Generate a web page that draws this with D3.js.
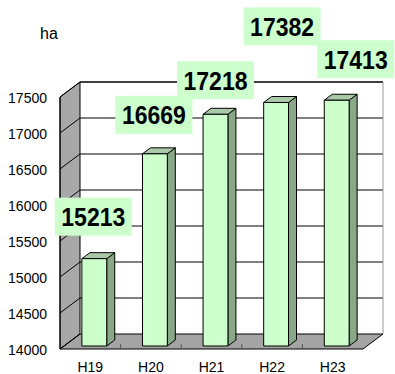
<!DOCTYPE html>
<html>
<head>
<meta charset="utf-8">
<script src="https://cdn.jsdelivr.net/npm/d3@7"></script>
<style>
  html, body { margin: 0; padding: 0; background: #fff; }
  svg { display: block; font-family: "Liberation Sans", Arial, sans-serif; }
</style>
</head>
<body>
<svg id="chart" width="395" height="374"></svg>
<script>
// Planted area by year (ha)
const categories = ["H19", "H20", "H21", "H22", "H23"];
const values = [15213, 16669, 17218, 17382, 17413];
const yTicks = [14000, 14500, 15000, 15500, 16000, 16500, 17000, 17500];
const unitLabel = "ha";

// Hand-placed offsets of the value boxes from each column top (dx, dy)
const labelNudge = [[-1, -42], [-1, -39], [0, -34], [6, -76], [19, -41]];

(function draw() {
  const svg = d3.select("#chart");

  // Front plane of the 3D plot box and its depth vector
  const plotL = 60, plotR = 363, plotB = 349, plotT = 97;
  const depth = { dx: 20, dy: -15 };

  const x = d3.scaleBand()
    .domain(categories)
    .range([plotL, plotR])
    .paddingInner(0.59)
    .paddingOuter(0.295);

  const y = d3.scaleLinear()
    .domain([yTicks[0], yTicks[yTicks.length - 1]])
    .range([plotB, plotT]);

  const pts = p => p.map(d => d.join(",")).join(" ");

  // Back wall
  svg.append("rect")
    .attr("x", plotL + depth.dx).attr("y", plotT + depth.dy)
    .attr("width", plotR - plotL).attr("height", plotB - plotT)
    .attr("fill", "#fff");

  // Side wall
  svg.append("polygon")
    .attr("points", pts([[plotL, plotB], [plotL + depth.dx, plotB + depth.dy],
                         [plotL + depth.dx, plotT + depth.dy], [plotL, plotT]]))
    .attr("fill", "#a8a8a8").attr("stroke", "#000").attr("stroke-width", 1);

  // Floor
  svg.append("polygon")
    .attr("points", pts([[plotL, plotB], [plotR, plotB],
                         [plotR + depth.dx, plotB + depth.dy], [plotL + depth.dx, plotB + depth.dy]]))
    .attr("fill", "#a4a4a4").attr("stroke", "#000").attr("stroke-width", 1);

  // Gridlines across side wall and back wall
  const grid = svg.append("g").attr("stroke", "#000").attr("stroke-width", 1).attr("fill", "none");
  yTicks.forEach(t => {
    const yf = y(t), yb = y(t) + depth.dy;
    grid.append("path")
      .attr("d", `M${plotL},${yf}L${plotL + depth.dx},${yb}` +
                 (t > yTicks[0] ? `L${plotR + depth.dx},${yb}` : ""));
  });

  // Back wall outline: top edge dark, right edge grey
  svg.append("path")
    .attr("d", `M${plotL + depth.dx},${plotT + depth.dy}L${plotR + depth.dx},${plotT + depth.dy}`)
    .attr("stroke", "#000").attr("fill", "none");
  svg.append("path")
    .attr("d", `M${plotR + depth.dx},${plotT + depth.dy}L${plotR + depth.dx},${plotB + depth.dy}`)
    .attr("stroke", "#999").attr("fill", "none");

  // Category tick marks along the front edge of the floor
  const step = x.step();
  d3.range(1, categories.length).forEach(i => {
    const bx = plotL + step * i;
    svg.append("line")
      .attr("x1", bx).attr("x2", bx)
      .attr("y1", plotB - 5).attr("y2", plotB)
      .attr("stroke", "#555").attr("stroke-width", 1);
  });

  // Columns
  const f0 = 0.2, f1 = 0.6; // depth span occupied by each column
  const off = { dx: depth.dx * f0, dy: depth.dy * f0 };
  const cd = { dx: depth.dx * (f1 - f0), dy: depth.dy * (f1 - f0) };
  const bw = x.bandwidth();

  const cols = svg.append("g").attr("stroke", "#000").attr("stroke-width", 1).attr("stroke-linejoin", "round");
  categories.forEach((c, i) => {
    const x0 = x(c) + off.dx, x1 = x0 + bw;
    const yt = y(values[i]) + off.dy, yb = y(yTicks[0]) + off.dy;
    // side face
    cols.append("polygon")
      .attr("points", pts([[x1, yb], [x1 + cd.dx, yb + cd.dy], [x1 + cd.dx, yt + cd.dy], [x1, yt]]))
      .attr("fill", "#88a888");
    // top face
    cols.append("polygon")
      .attr("points", pts([[x0, yt], [x1, yt], [x1 + cd.dx, yt + cd.dy], [x0 + cd.dx, yt + cd.dy]]))
      .attr("fill", "#a9c9a9");
    // front face
    cols.append("rect")
      .attr("x", x0).attr("y", yt).attr("width", bw).attr("height", yb - yt)
      .attr("fill", "#ccffcc");
  });

  // Front vertical axis line
  svg.append("line")
    .attr("x1", plotL).attr("x2", plotL).attr("y1", plotT).attr("y2", plotB)
    .attr("stroke", "#000");

  // Y axis labels
  const yAxis = d3.axisLeft(y).tickValues(yTicks).tickSize(0).tickPadding(13).tickFormat(d3.format("d"));
  const ya = svg.append("g").attr("transform", `translate(${plotL},1.5)`).call(yAxis);
  ya.select(".domain").remove();
  ya.selectAll("text").attr("font-size", 14).attr("fill", "#000")
    .attr("font-family", "'Liberation Sans', Arial, sans-serif");

  // X axis labels
  const xAxis = d3.axisBottom(x).tickSize(0).tickPadding(0);
  const xa = svg.append("g").attr("transform", `translate(0,${plotB})`).call(xAxis);
  xa.select(".domain").remove();
  xa.selectAll("text").attr("font-size", 14).attr("fill", "#000")
    .attr("dy", null).attr("y", 23)
    .attr("font-family", "'Liberation Sans', Arial, sans-serif");

  // Unit
  svg.append("text").attr("x", 40).attr("y", 39)
    .attr("font-size", 16).attr("fill", "#000").text(unitLabel);

  // Value boxes
  const boxW = 77, boxH = 38;
  const lab = svg.append("g");
  categories.forEach((c, i) => {
    const cx = x(c) + off.dx + bw / 2 + labelNudge[i][0];
    const cy = y(values[i]) + off.dy + labelNudge[i][1];
    lab.append("rect")
      .attr("x", cx - boxW / 2).attr("y", cy - boxH / 2)
      .attr("width", boxW).attr("height", boxH)
      .attr("fill", "#ccffcc");
    lab.append("text")
      .attr("x", cx).attr("y", cy + 9.5)
      .attr("text-anchor", "middle")
      .attr("font-size", 26).attr("font-weight", "bold").attr("fill", "#000")
      .attr("textLength", 64).attr("lengthAdjust", "spacingAndGlyphs")
      .text(values[i]);
  });
})();
</script>
</body>
</html>
